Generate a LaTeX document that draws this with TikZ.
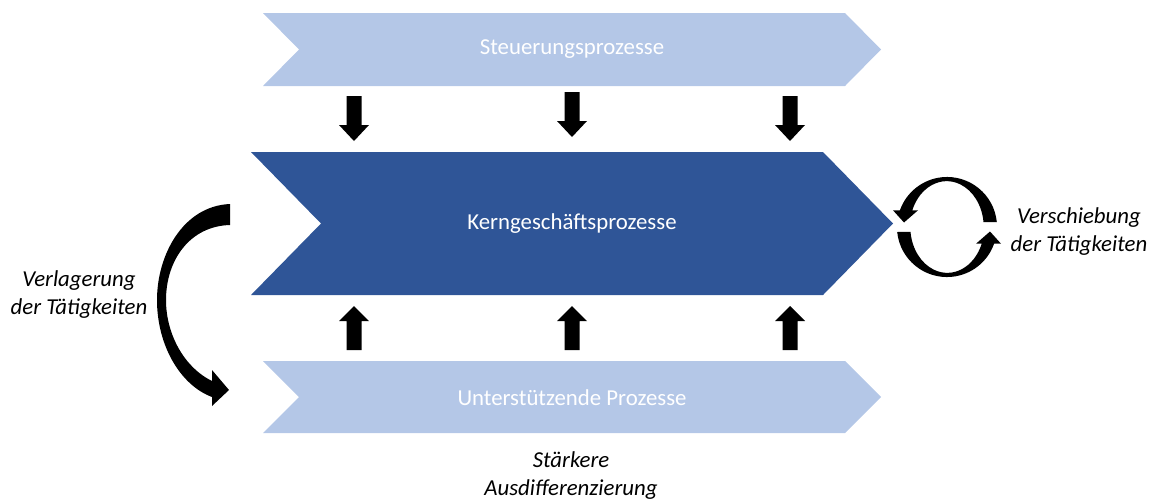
\documentclass[tikz,border=0pt]{standalone}
\usepackage{fontspec}
\setmainfont{Carlito}
\definecolor{lightc}{HTML}{B4C7E7}
\definecolor{darkc}{HTML}{2F5597}
\begin{document}
\begin{tikzpicture}[x=0.5pt,y=-0.5pt,
  chevtext/.style={text=white,font=\fontsize{11.4pt}{13pt}\selectfont,inner sep=0pt},
  lbl/.style={align=center,font=\fontsize{11.4pt}{14pt}\selectfont\itshape,inner sep=0pt},
  dnarr/.pic={\fill[black] (-7.5,0) -- (7.5,0) -- (7.5,29) -- (15,29) -- (0,45) -- (-15,29) -- (-7.5,29) -- cycle;},
  uparr/.pic={\fill[black] (-7.5,0) -- (7.5,0) -- (7.5,-29) -- (15,-29) -- (0,-44) -- (-15,-29) -- (-7.5,-29) -- cycle;},
  circarr/.style={fill=black}]
\useasboundingbox (0,0) rectangle (1151,499);
% chevrons
\fill[lightc] (263,13) -- (845,13) -- (881,49.5) -- (845,86) -- (263,86) -- (299,49.5) -- cycle;
\fill[darkc] (251,152) -- (823,152) -- (893,223.5) -- (823,295) -- (251,295) -- (321,223.5) -- cycle;
\fill[lightc] (263,361) -- (845,361) -- (881,397) -- (845,433) -- (263,433) -- (299,397) -- cycle;
\node[chevtext] (steu) at (572,49.5) {Steuerungsprozesse};
\node[chevtext] (kern) at (572,224) {Kerngeschäftsprozesse};
\node[chevtext] (unt) at (572,398) {Unterstützende Prozesse};
% block arrows
\pic at (354,96) {dnarr};
\pic at (572,92) {dnarr};
\pic at (790,96) {dnarr};
\pic at (354,350) {uparr};
\pic at (572,350) {uparr};
\pic at (790,350) {uparr};
% left curved arrow
\fill[black] (230,204) .. controls (183,206) and (157,255) .. (157,300)
  .. controls (157,345) and (180,385) .. (212,397)
  -- (212,406) -- (229,390) -- (212,370) -- (212,381)
  .. controls (185,368) and (166,335) .. (166,300)
  .. controls (166,260) and (190,226) .. (230,225) -- cycle;
% right circular arrows
\foreach \r in {0,180}{
\begin{scope}[rotate around={\r:(947,227)}]
\fill[circarr] (996.8,222) arc[start angle=-5.7, end angle=-160.5, radius=50]
  -- (893,210.3) -- (904,222.5) -- (918,210.3)
  -- (912.3,210.3) arc[start angle=-158.5, end angle=-6.2, x radius=37, y radius=46]
  -- cycle;
\end{scope}}
% labels
\node[lbl] (verl) at (79,295) {Verlagerung\\der Tätigkeiten};
\node[lbl] (vers) at (1079,232) {Verschiebung\\der Tätigkeiten};
\node[lbl] (st) at (571,476) {Stärkere\\Ausdifferenzierung};
\end{tikzpicture}
\end{document}
